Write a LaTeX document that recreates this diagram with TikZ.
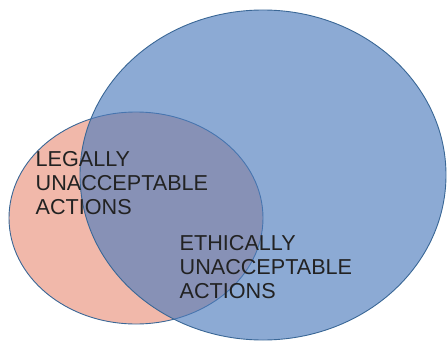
\documentclass[tikz,border=0pt]{standalone}
\usepackage{fontspec}
\setmainfont{Liberation Sans}
\usetikzlibrary{shapes.geometric}
\definecolor{setred}{RGB}{241,184,170}
\definecolor{setblue}{RGB}{79,125,189}
\definecolor{setline}{RGB}{58,103,150}
\definecolor{labelgray}{RGB}{34,34,34}
\tikzset{
  setshape/.style={ellipse, draw=setline, line width=0.9pt, inner sep=0pt},
  setlabel/.style={anchor=north west, inner sep=0pt, align=left, text=labelgray,
    font=\fontsize{21.6}{24}\selectfont}
}
\begin{document}
\begin{tikzpicture}[x=1pt,y=1pt]
  \useasboundingbox (0,0) rectangle (447,341);
  % legally unacceptable set
  \node[setshape, fill=setred, minimum width=254pt, minimum height=212pt] (legal) at (136,123) {};
  % ethically unacceptable set, translucent so the overlap shows
  \node[setshape, fill=setblue, fill opacity=0.65, minimum width=366pt, minimum height=330pt] (ethic) at (263,166) {};
  \node[setlabel] (legaltext) at (35.5,190) {LEGALLY\\UNACCEPTABLE\\ACTIONS};
  \node[setlabel] (ethictext) at (179.5,106) {ETHICALLY\\UNACCEPTABLE\\ACTIONS};
\end{tikzpicture}
\end{document}
